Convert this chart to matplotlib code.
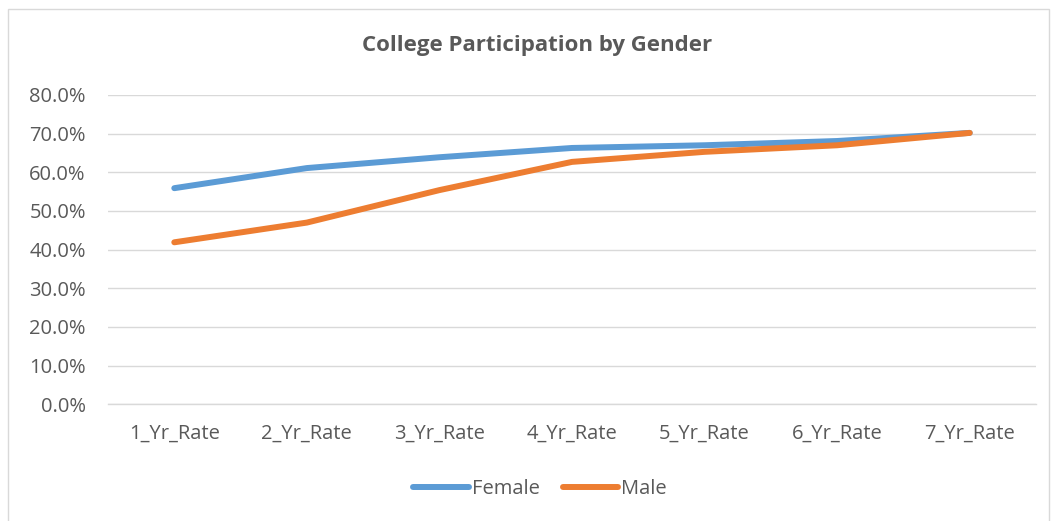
import matplotlib
matplotlib.use("Agg")
import matplotlib.pyplot as plt
from matplotlib.ticker import PercentFormatter, FixedLocator
from matplotlib.lines import Line2D
from matplotlib.patches import Rectangle

categories = ["1_Yr_Rate", "2_Yr_Rate", "3_Yr_Rate", "4_Yr_Rate", "5_Yr_Rate", "6_Yr_Rate", "7_Yr_Rate"]
female = [0.559, 0.611, 0.639, 0.663, 0.670, 0.681, 0.702]
male = [0.419, 0.470, 0.554, 0.627, 0.653, 0.670, 0.702]
yticks = [0.0, 0.1, 0.2, 0.3, 0.4, 0.5, 0.6, 0.7, 0.8]

W, H = 1057, 521
fig = plt.figure(figsize=(W / 100, H / 100), dpi=100)
fig.patch.set_facecolor("white")

font = "Open Sans"
txt = "#595959"

# outer chart border
fig.add_artist(Rectangle((8 / W, -0.1), (1049 - 8) / W, 1.1 - 9 / H, transform=fig.transFigure,
                         fill=False, edgecolor="#D9D9D9", linewidth=1.0))

left, right = 108 / W, 1036 / W
top, bottom = 1 - 95 / H, 1 - 404.3 / H
ax = fig.add_axes([left, bottom, right - left, top - bottom])

x = list(range(len(categories)))
ax.plot(x, female, color="#5B9BD5", linewidth=4.3, solid_capstyle="round", solid_joinstyle="round", label="Female", zorder=3)
ax.plot(x, male, color="#ED7D31", linewidth=4.3, solid_capstyle="round", solid_joinstyle="round", label="Male", zorder=4)

ax.set_xlim(-0.5, len(categories) - 0.5)
ax.set_ylim(0, 0.8)
ax.yaxis.set_major_locator(FixedLocator(yticks))
ax.yaxis.set_major_formatter(PercentFormatter(1.0, decimals=1))
ax.set_xticks(x)
ax.set_xticklabels(categories)
ax.grid(axis="y", color="#D9D9D9", linewidth=1.0)
ax.set_axisbelow(True)
for s in ["top", "right", "left"]:
    ax.spines[s].set_visible(False)
ax.spines["bottom"].set_color("#D9D9D9")
ax.spines["bottom"].set_linewidth(1.0)
ax.tick_params(axis="both", length=0, colors=txt, labelsize=14.5)
ax.tick_params(axis="y", pad=16)
ax.tick_params(axis="x", pad=14)
for lab in ax.get_xticklabels() + ax.get_yticklabels():
    lab.set_fontfamily(font)
    lab.set_color(txt)

fig.text(537 / W, 1 - 46 / H, "College Participation by Gender", ha="center", va="center",
         fontsize=16, fontweight="bold", color=txt, family=font)

handles = [Line2D([0], [0], color="#5B9BD5", linewidth=4.3, solid_capstyle="round"),
           Line2D([0], [0], color="#ED7D31", linewidth=4.3, solid_capstyle="round")]
fig.legend(handles, ["Female", "Male"], loc="center", bbox_to_anchor=(540 / W, 1 - 489 / H),
           ncol=2, frameon=False, handlelength=2.75, handletextpad=0.15, columnspacing=1.15,
           prop={"family": font, "size": 14.5}, labelcolor=txt)

fig.savefig("out.png", dpi=100, facecolor="white")
